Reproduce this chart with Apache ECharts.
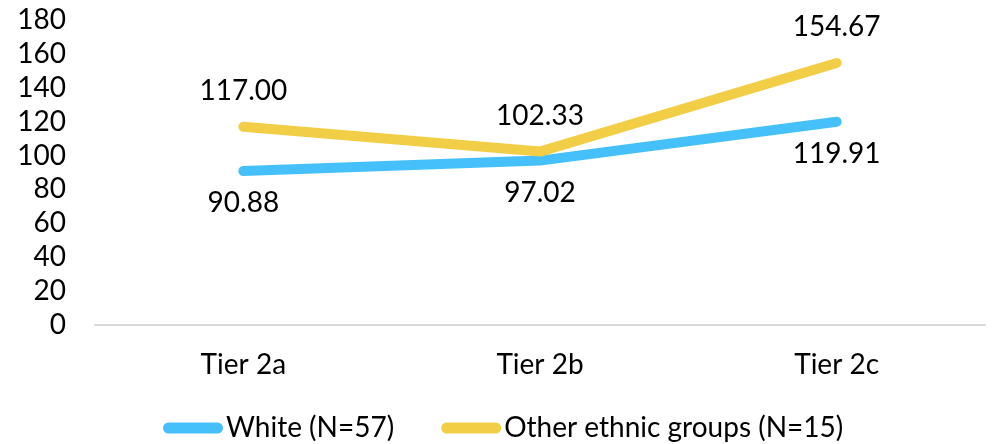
<!DOCTYPE html>
<html>
<head>
<meta charset="utf-8">
<script src="https://cdn.jsdelivr.net/npm/echarts@6/dist/echarts.min.js"></script>
<style>
  html, body { margin: 0; padding: 0; background: #ffffff; }
  #chart { width: 1000px; height: 444px; }
</style>
</head>
<body>
<div id="chart"></div>
<script>
// Tiers along the x axis
const categories = ['Tier 2a', 'Tier 2b', 'Tier 2c'];
// Series names as shown in the legend
const whiteName = 'White (N=57)';
const otherName = 'Other ethnic groups (N=15)';
// Values per tier
const whiteValues = [90.88, 97.02, 119.91];
const otherValues = [117.00, 102.33, 154.67];
// Value axis range
const yMin = 0, yMax = 180, yStep = 20;

const FONT = 'Lato, "Open Sans", sans-serif';
const TEXT = '#000000';
const SIZE = 28;

// Rounded bar used as the legend marker
const capsule = 'path://M5.5,0 H54.5 A5.5,5.5 0 0 1 54.5,11 H5.5 A5.5,5.5 0 0 1 5.5,0 Z';

const chart = echarts.init(document.getElementById('chart'), null, { renderer: 'canvas' });
chart.setOption({
  animation: false,
  backgroundColor: '#ffffff',
  textStyle: { fontFamily: FONT, color: TEXT },
  grid: { left: 95, right: 15, top: 20, bottom: 119, containLabel: false },
  legend: {
    left: 163,
    top: 414,
    padding: 0,
    itemWidth: 60,
    itemHeight: 11,
    itemGap: 47,
    textStyle: { fontFamily: FONT, fontSize: SIZE, color: TEXT, padding: [0, 0, 0, -2] },
    data: [
      { name: whiteName, icon: capsule },
      { name: otherName, icon: capsule }
    ]
  },
  xAxis: {
    type: 'category',
    data: categories,
    boundaryGap: true,
    axisLine: { show: true, lineStyle: { color: '#d9d9d9', width: 2 } },
    axisTick: { show: false },
    axisLabel: { fontFamily: FONT, fontSize: SIZE, color: TEXT, margin: 26 },
    splitLine: { show: false }
  },
  yAxis: {
    type: 'value',
    min: yMin,
    max: yMax,
    interval: yStep,
    axisLine: { show: false },
    axisTick: { show: false },
    splitLine: { show: false },
    axisLabel: { fontFamily: FONT, fontSize: SIZE, color: TEXT, margin: 29 }
  },
  series: [
    {
      name: whiteName,
      type: 'line',
      data: whiteValues,
      color: '#45c0fa',
      symbol: 'circle',
      symbolSize: 0,
      showSymbol: true,
      lineStyle: { width: 10, cap: 'round', join: 'round', color: '#45c0fa' },
      label: {
        show: true,
        position: 'bottom',
        distance: 18,
        fontFamily: FONT,
        fontSize: SIZE,
        color: TEXT,
        formatter: p => p.value.toFixed(2)
      },
      z: 2
    },
    {
      name: otherName,
      type: 'line',
      data: otherValues,
      color: '#f2ce47',
      symbol: 'circle',
      symbolSize: 0,
      showSymbol: true,
      lineStyle: { width: 10, cap: 'round', join: 'round', color: '#f2ce47' },
      label: {
        show: true,
        position: 'top',
        distance: 22,
        fontFamily: FONT,
        fontSize: SIZE,
        color: TEXT,
        formatter: p => p.value.toFixed(2)
      },
      z: 3
    }
  ]
});
</script>
</body>
</html>
